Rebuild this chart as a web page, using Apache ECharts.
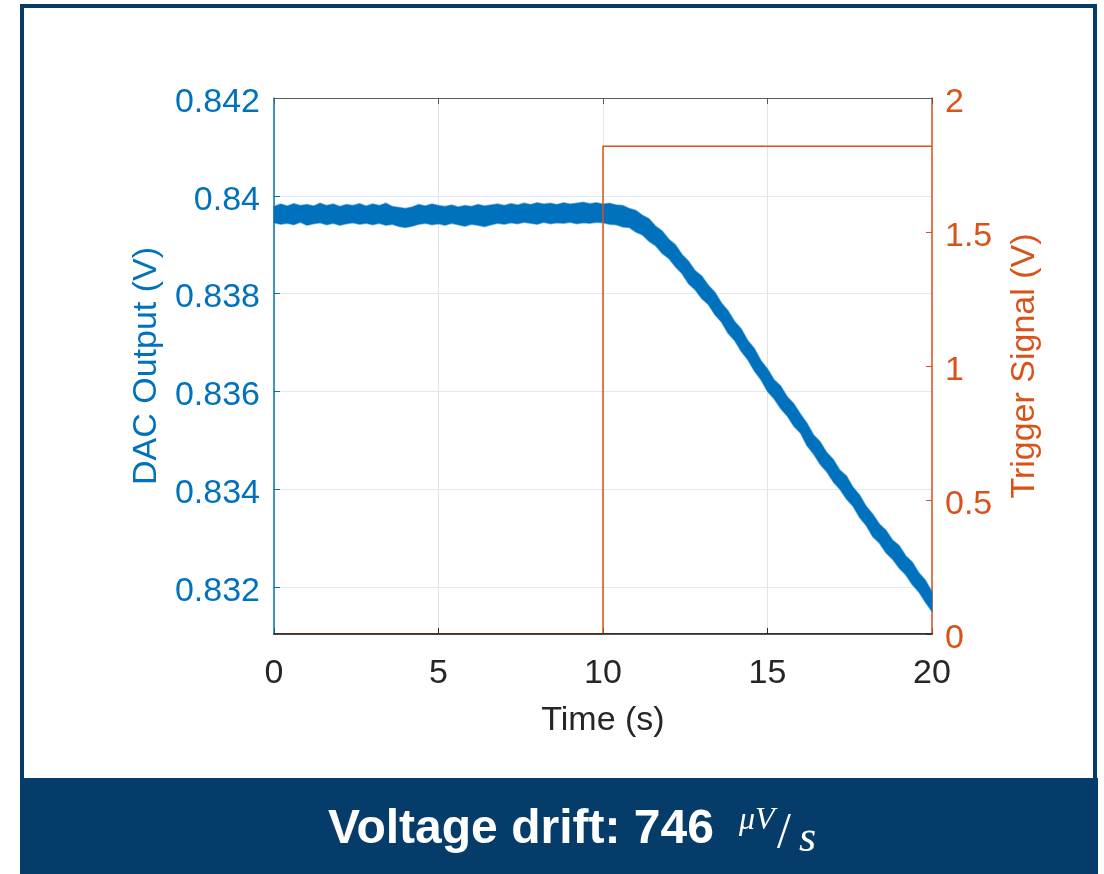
<!DOCTYPE html>
<html><head><meta charset="utf-8">
<script src="https://cdn.jsdelivr.net/npm/echarts@6/dist/echarts.min.js"></script>
<style>html,body{margin:0;padding:0;background:#fff}#c{width:1104px;height:874px}</style>
</head><body><div id="c"></div>
<script>
const dacTime = [0,0.2,0.4,0.6,0.8,1,1.2,1.4,1.6,1.8,2,2.2,2.4,2.6,2.8,3,3.2,3.4,3.6,3.8,4,4.2,4.4,4.6,4.8,5,5.2,5.4,5.6,5.8,6,6.2,6.4,6.6,6.8,7,7.2,7.4,7.6,7.8,8,8.2,8.4,8.6,8.8,9,9.2,9.4,9.6,9.8,10,10.2,10.4,10.6,10.8,11,11.2,11.4,11.6,11.8,12,12.2,12.4,12.6,12.8,13,13.2,13.4,13.6,13.8,14,14.2,14.4,14.6,14.8,15,15.2,15.4,15.6,15.8,16,16.2,16.4,16.6,16.8,17,17.2,17.4,17.6,17.8,18,18.2,18.4,18.6,18.8,19,19.2,19.4,19.6,19.8,20];
const dacUpper = [0.83978,0.83983,0.83979,0.83984,0.83980,0.83982,0.83979,0.83985,0.83980,0.83983,0.83978,0.83982,0.83980,0.83984,0.83979,0.83983,0.83980,0.83985,0.83978,0.83976,0.83974,0.83977,0.83982,0.83979,0.83983,0.83980,0.83978,0.83981,0.83977,0.83980,0.83978,0.83982,0.83979,0.83981,0.83983,0.83980,0.83984,0.83981,0.83985,0.83982,0.83986,0.83983,0.83985,0.83982,0.83986,0.83983,0.83985,0.83987,0.83984,0.83986,0.83983,0.83985,0.83981,0.83980,0.83974,0.83970,0.83960,0.83953,0.83938,0.83928,0.83911,0.83900,0.83880,0.83866,0.83847,0.83836,0.83817,0.83803,0.83781,0.83765,0.83743,0.83728,0.83704,0.83688,0.83663,0.83646,0.83624,0.83611,0.83589,0.83575,0.83554,0.83535,0.83511,0.83497,0.83475,0.83461,0.83439,0.83427,0.83404,0.83388,0.83365,0.83349,0.83329,0.83316,0.83296,0.83285,0.83264,0.83251,0.83229,0.83214,0.83190];
const dacLower = [0.83945,0.83942,0.83944,0.83941,0.83946,0.83940,0.83943,0.83945,0.83941,0.83944,0.83940,0.83943,0.83945,0.83942,0.83944,0.83941,0.83944,0.83940,0.83942,0.83937,0.83935,0.83938,0.83942,0.83944,0.83941,0.83943,0.83940,0.83944,0.83941,0.83938,0.83942,0.83940,0.83937,0.83941,0.83944,0.83942,0.83945,0.83943,0.83946,0.83944,0.83942,0.83946,0.83943,0.83945,0.83944,0.83946,0.83943,0.83945,0.83944,0.83946,0.83945,0.83942,0.83941,0.83936,0.83935,0.83926,0.83920,0.83907,0.83898,0.83882,0.83872,0.83855,0.83841,0.83820,0.83808,0.83790,0.83778,0.83757,0.83742,0.83719,0.83704,0.83682,0.83665,0.83642,0.83624,0.83600,0.83585,0.83565,0.83550,0.83529,0.83515,0.83489,0.83472,0.83451,0.83436,0.83415,0.83400,0.83380,0.83365,0.83342,0.83326,0.83303,0.83290,0.83270,0.83257,0.83239,0.83225,0.83205,0.83190,0.83169,0.83150];
const triggerTime = [0, 10, 10, 20];
const triggerValue = [0, 0, 1.82, 1.82];
const xTickLabels = ['0','5','10','15','20'];

const FONT = '"Liberation Sans", Arial, Helvetica, sans-serif';
const BLUE = '#0072BD', ORANGE = '#D95319', DARK = '#262626', NAVY = '#053C6A';

const chart = echarts.init(document.getElementById('c'), null, {renderer: 'canvas'});
const option = {
  animation: false,
  backgroundColor: '#ffffff',
  grid: {left: 274, right: 172, top: 98, bottom: 240, containLabel: false},
  xAxis: [
    {type: 'value', min: 0, max: 20, interval: 5, position: 'bottom', z: 0,
     axisLine: {show: true, onZero: false, lineStyle: {color: DARK, width: 1.5}},
     axisTick: {show: true, inside: true, length: 6, lineStyle: {color: DARK, width: 1}},
     axisLabel: {color: DARK, fontSize: 34, fontFamily: FONT, margin: 23,
                 formatter: v => xTickLabels[Math.round(v / 5)]},
     splitLine: {show: true, lineStyle: {color: '#E4E4E4', width: 1}},
     name: 'Time (s)', nameLocation: 'middle', nameGap: 70,
     nameTextStyle: {color: DARK, fontSize: 34, fontFamily: FONT}},
    {type: 'value', min: 0, max: 20, interval: 5, position: 'bottom', z: 6,
     axisLine: {show: true, onZero: false, lineStyle: {color: DARK, width: 1.5}},
     axisTick: {show: false}, axisLabel: {show: false}, splitLine: {show: false}},
    {type: 'value', min: 0, max: 20, interval: 5, position: 'top', z: 6,
     axisLine: {show: true, onZero: false, lineStyle: {color: '#5a5a5a', width: 1}},
     axisTick: {show: true, inside: true, length: 6, lineStyle: {color: '#5a5a5a', width: 1}},
     axisLabel: {show: false}, splitLine: {show: false}}
  ],
  yAxis: [
    {type: 'value', min: 0.83104, max: 0.842, splitNumber: 5, position: 'left', z: 1,
     axisLine: {show: true, onZero: false, lineStyle: {color: BLUE, width: 1.5}},
     axisTick: {show: true, inside: true, length: 6, lineStyle: {color: BLUE, width: 1}},
     axisLabel: {color: BLUE, fontSize: 34, fontFamily: FONT, margin: 14, showMinLabel: false,
                 formatter: v => '{a|' + String(parseFloat(v.toFixed(3))) + '}',
                 rich: {a: {color: BLUE, fontSize: 34, fontFamily: FONT, padding: [9, 0, 0, 0]}}},
     splitLine: {show: true, lineStyle: {color: '#DDE9F4', width: 1}},
     name: 'DAC Output (V)', nameLocation: 'middle', nameGap: 110, nameRotate: 90,
     nameTextStyle: {color: BLUE, fontSize: 34, fontFamily: FONT}},
    {type: 'value', min: 0, max: 2, interval: 0.5, position: 'right', z: 1,
     axisLine: {show: true, onZero: false, lineStyle: {color: ORANGE, width: 1.5}},
     axisTick: {show: true, inside: true, length: 6, lineStyle: {color: ORANGE, width: 1}},
     axisLabel: {color: ORANGE, fontSize: 34, fontFamily: FONT, margin: 13,
                 formatter: v => '{a|' + String(v) + '}',
                 rich: {a: {color: ORANGE, fontSize: 34, fontFamily: FONT, padding: [9, 0, 0, 0]}}},
     splitLine: {show: false},
     name: 'Trigger Signal (V)', nameLocation: 'middle', nameGap: 76, nameRotate: 90,
     nameTextStyle: {color: ORANGE, fontSize: 34, fontFamily: FONT}}
  ],
  series: [
    {type: 'custom', name: 'DAC Output', xAxisIndex: 0, yAxisIndex: 0, z: 3,
     data: [[10, 0.836]], encode: {x: 0, y: 1},
     renderItem: function (params, api) {
       const pts = [];
       for (let i = 0; i < dacTime.length; i++) pts.push(api.coord([dacTime[i], dacUpper[i]]));
       for (let i = dacTime.length - 1; i >= 0; i--) pts.push(api.coord([dacTime[i], dacLower[i]]));
       return {type: 'polygon', shape: {points: pts},
               style: {fill: BLUE, stroke: 'rgba(0,114,189,0.5)', lineWidth: 1.5}};
     }},
    {type: 'line', name: 'Trigger', xAxisIndex: 0, yAxisIndex: 1, z: 4,
     data: triggerTime.map((t, i) => [t, triggerValue[i]]),
     symbol: 'none', showSymbol: false,
     lineStyle: {color: ORANGE, width: 1.5}}
  ],
  graphic: [
    {type: 'rect', z: 100, shape: {x: 20, y: 778, width: 1078, height: 96}, style: {fill: NAVY}},
    {type: 'rect', z: 100, shape: {x: 22, y: 6, width: 1073, height: 900}, style: {fill: 'none', stroke: NAVY, lineWidth: 4}},
    {type: 'text', z: 101, x: 328, y: 830,
     style: {text: 'Voltage drift: 746', fill: '#ffffff', font: 'bold 48px "Liberation Sans", Arial, sans-serif', textAlign: 'left', textVerticalAlign: 'middle'}},
    {type: 'text', z: 101, x: 739, y: 821,
     style: {text: 'μV', fill: '#ffffff', font: 'italic 32px "Liberation Serif", "DejaVu Serif", serif', textAlign: 'left', textVerticalAlign: 'middle'}},
    {type: 'text', z: 101, x: 777, y: 834,
     style: {text: '/', fill: '#ffffff', font: '50px "Liberation Serif", "DejaVu Serif", serif', textAlign: 'left', textVerticalAlign: 'middle'}},
    {type: 'text', z: 101, x: 799, y: 839,
     style: {text: 's', fill: '#ffffff', font: 'italic 44px "Liberation Serif", "DejaVu Serif", serif', textAlign: 'left', textVerticalAlign: 'middle'}}
  ]
};
chart.setOption(option);
</script></body></html>
